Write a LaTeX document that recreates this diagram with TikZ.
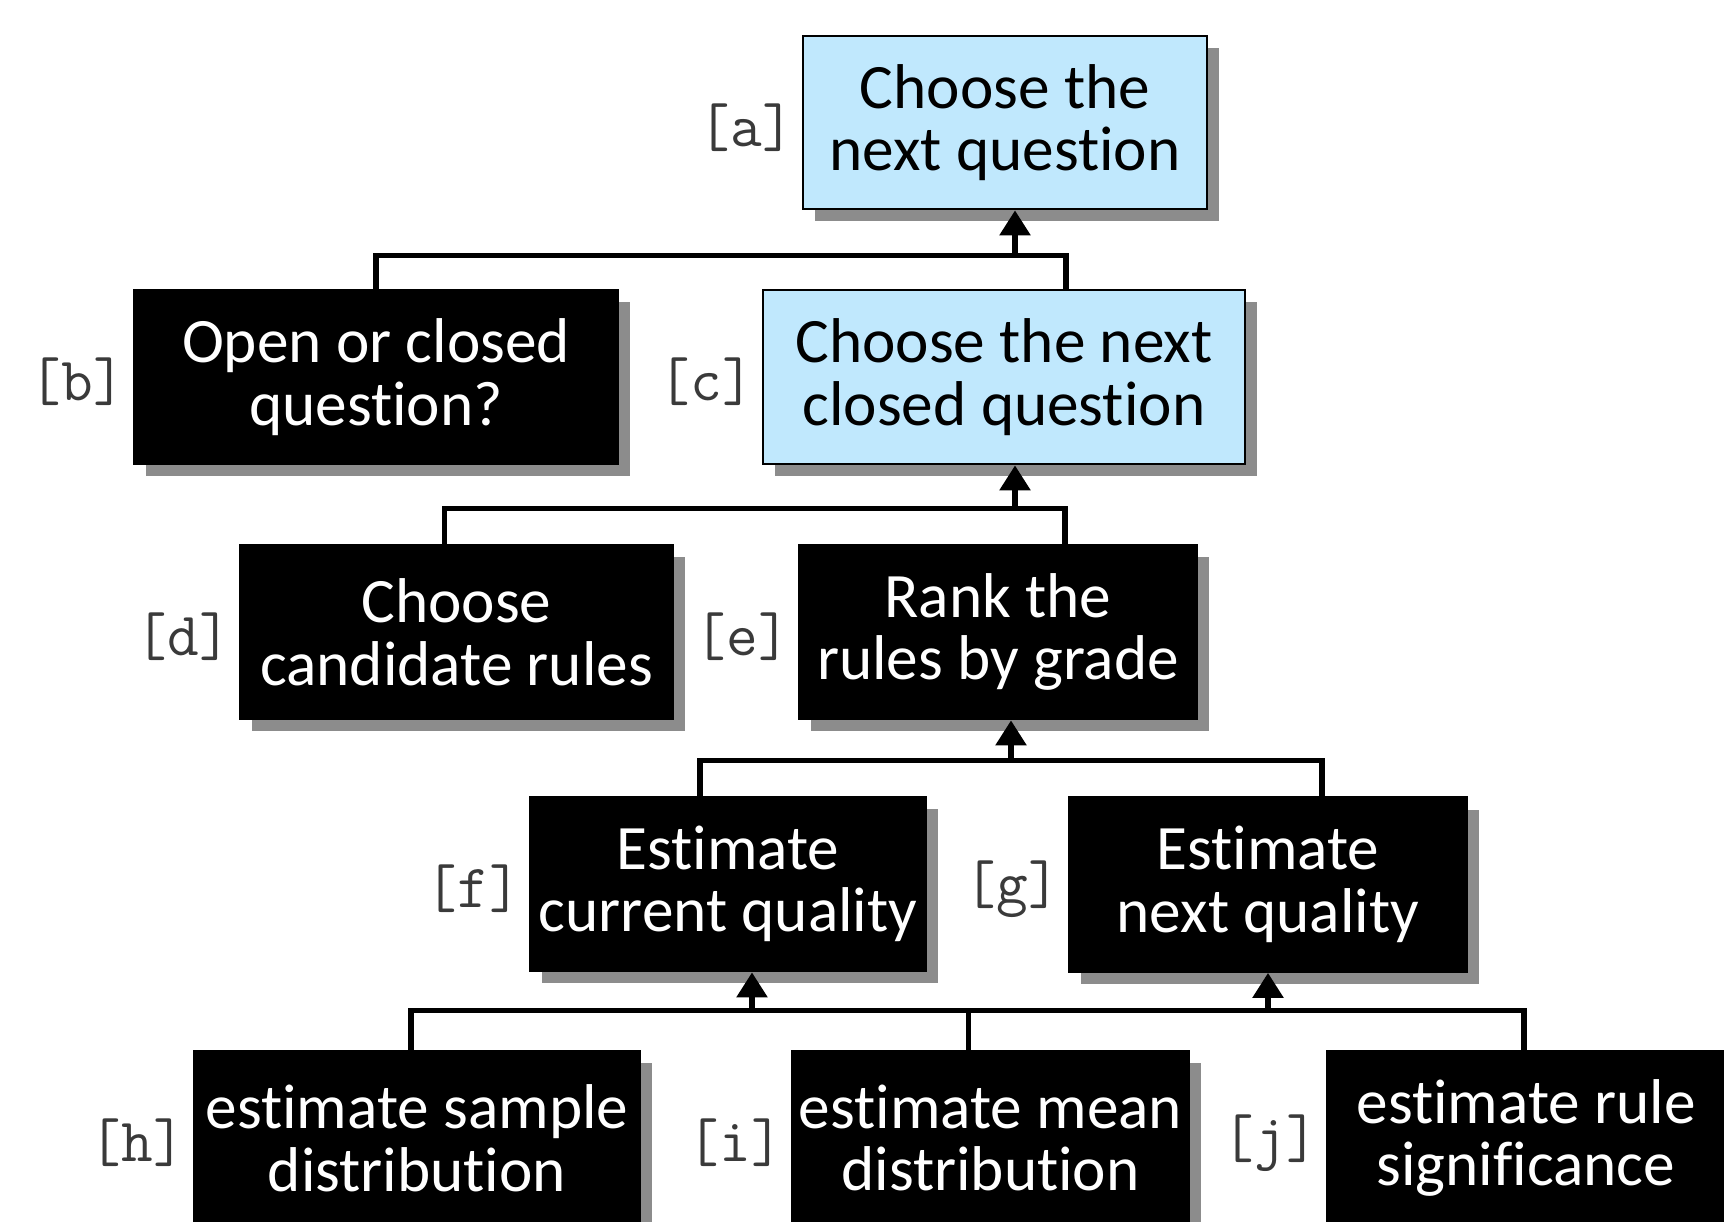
\documentclass[tikz,border=0pt]{standalone}
\usepackage{fontspec}
\setmainfont{Carlito}[Ligatures={NoCommon,NoContextual,NoRare}]
\usepackage{tikz}
\usetikzlibrary{arrows.meta}
\usetikzlibrary{positioning}
\usetikzlibrary{calc}
\usetikzlibrary{shadows}
\definecolor{PaleBlue}{HTML}{C0E8FD}
\definecolor{ShadowGrey}{HTML}{8C8C8C}
\definecolor{TagGrey}{HTML}{3A3A3A}

\tikzset{
  box/.style={draw=black, line width=0.8pt, minimum height=1.74cm, inner sep=0pt,
    align=center, font=\fontsize{18}{17.8}\selectfont,
    drop shadow={shadow xshift=0.12cm, shadow yshift=-0.12cm, fill=ShadowGrey, opacity=1}},
  dark/.style={box, fill=black, text=white},
  pale/.style={box, fill=PaleBlue, text=black},
  tag/.style={inner sep=0pt, text=TagGrey, font=\ttfamily\fontsize{17.5}{18}\selectfont},
  link/.style={line width=1.6pt},
  feed/.style={line width=1.6pt, -{Triangle[length=0.25cm,width=0.3cm]}},
}

\begin{document}
\begin{tikzpicture}
    \useasboundingbox (0,0) rectangle (17.24,-12.22);
    \clip (0,0) rectangle (17.24,-12.22);

    \node[pale, minimum width=4.04cm, minimum height=1.73cm] (a) at (10.05,-1.225) {Choose the\\next question};
    \node[dark, minimum width=4.84cm] (b) at (3.76,-3.77) {Open or closed\\question?};
    \node[pale, minimum width=4.82cm] (c) at (10.04,-3.77) {Choose the next\\closed question};
    \node[dark, minimum width=4.33cm] (d) at (4.565,-6.32) {Choose\\candidate rules};
    \node[dark, minimum width=3.98cm] (e) at (9.98,-6.32) {Rank the\\rules by grade};
    \node[dark, minimum width=3.96cm] (f) at (7.28,-8.84) {Estimate\\current quality};
    \node[dark, minimum width=3.98cm] (g) at (12.68,-8.845) {Estimate\\next quality};
    \node[dark, minimum width=4.46cm] (h) at (4.17,-11.38) {estimate sample\\distribution};
    \node[dark, minimum width=3.97cm] (i) at (9.905,-11.38) {estimate mean\\distribution};
    \node[dark, minimum width=3.98cm] (j) at (15.26,-11.38) {estimate rule\\significance};

    \foreach \n in {a,b,c,d,e,f,g,h,i,j}
      \node[tag, left=0.07cm of \n, yshift=-0.05cm] (tag\n) {[\n]};

    \coordinate (hub1) at ($(a.south)+(0.10,-0.45)$);
    \coordinate (hub2) at ($(c.south)+(0.11,-0.43)$);
    \coordinate (hub3) at ($(e.south)+(0.13,-0.40)$);
    \coordinate (hub4) at ($(f.south)+(0.24,-0.38)$);
    \coordinate (cTop) at ($(c.north)+(0.62,0)$);
    \coordinate (dTop) at ($(d.north)+(-0.12,0)$);
    \coordinate (eTop) at ($(e.north)+(0.67,0)$);
    \coordinate (fTop) at ($(f.north)+(-0.28,0)$);
    \coordinate (gTop) at ($(g.north)+(0.54,0)$);
    \coordinate (hTop) at ($(h.north)+(-0.06,0)$);
    \coordinate (iTop) at ($(i.north)+(-0.22,0)$);
    \coordinate (jTop) at ($(j.north)+(-0.02,0)$);

    \draw[link] (b.north) |- (hub1) -| (cTop);
    \draw[feed] (hub1) -- (hub1 |- a.south);

    \draw[link] (dTop) |- (hub2) -| (eTop);
    \draw[feed] (hub2) -- (hub2 |- c.south);

    \draw[link] (fTop) |- (hub3) -| (gTop);
    \draw[feed] (hub3) -- (hub3 |- e.south);

    \draw[link] (hTop) |- (hub4) -| (jTop);
    \draw[link] (iTop) -- (iTop |- hub4);
    \draw[feed] (hub4) -- (hub4 |- f.south);
    \draw[feed] (g.south |- hub4) -- (g.south);
\end{tikzpicture}
\end{document}
